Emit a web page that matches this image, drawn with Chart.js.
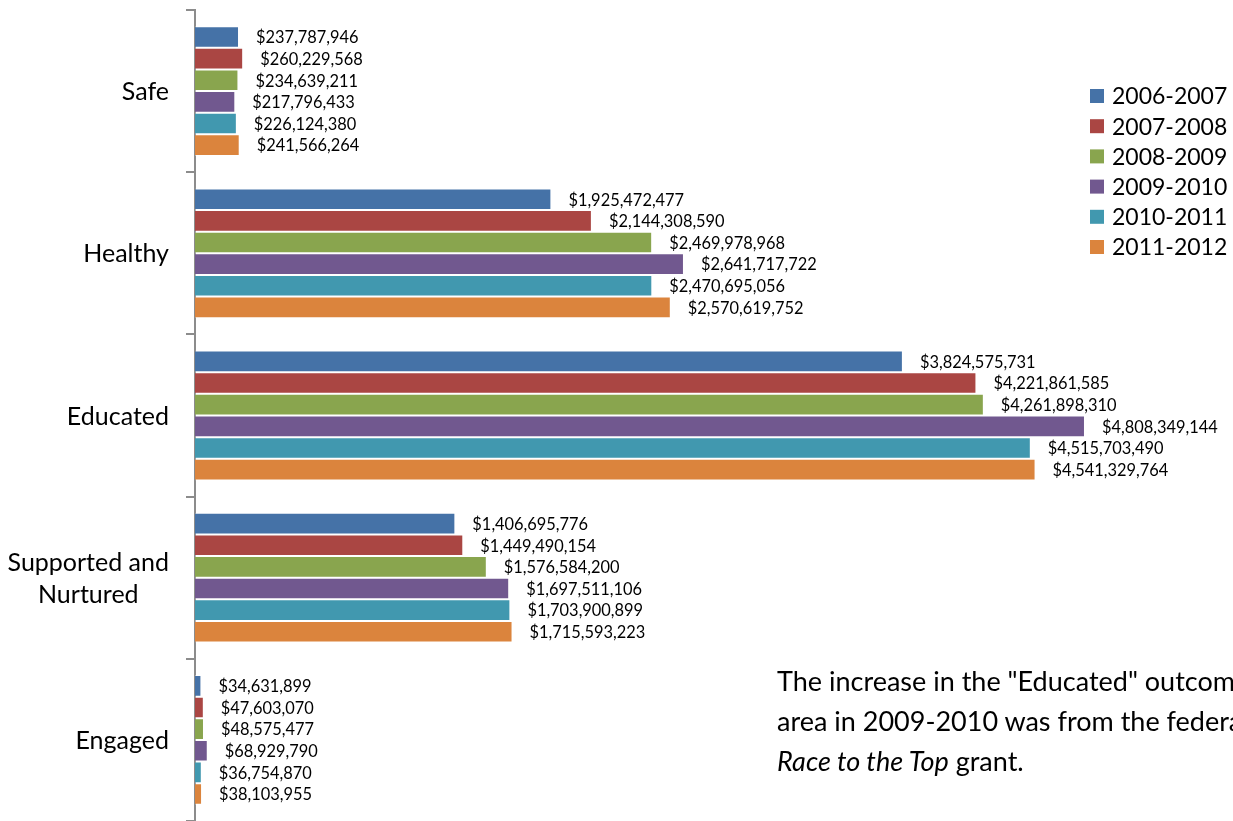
<!DOCTYPE html>
<html>
<head>
<meta charset="utf-8">
<script src="https://cdn.jsdelivr.net/npm/chart.js@4.4.1/dist/chart.umd.min.js"></script>
<style>
  html, body { margin: 0; padding: 0; background: #fff; overflow: hidden; width: 1233px; height: 821px; }
  #wrap { position: relative; width: 1233px; height: 821px; overflow: hidden; }
  canvas { position: absolute; left: 0; top: 0; }
  #note { position: absolute; left: 777px; top: 661px; font-family: Lato, sans-serif; font-size: 27px;
          line-height: 40px; color: #000; white-space: nowrap; }
</style>
</head>
<body>
<div id="wrap">
  <canvas id="c" width="1233" height="821"></canvas>
  <div id="note">The increase in the "Educated" outcome<br>area in 2009-2010 was from the federal<br><i>Race to the Top</i> grant.</div>
</div>
<script>
const categories = ["Safe", "Healthy", "Educated", ["Supported and", "Nurtured"], "Engaged"];
const seriesNames = ["2006-2007", "2007-2008", "2008-2009", "2009-2010", "2010-2011", "2011-2012"];
const values2006 = [237787946, 1925472477, 3824575731, 1406695776, 34631899];
const values2007 = [260229568, 2144308590, 4221861585, 1449490154, 47603070];
const values2008 = [234639211, 2469978968, 4261898310, 1576584200, 48575477];
const values2009 = [217796433, 2641717722, 4808349144, 1697511106, 68929790];
const values2010 = [226124380, 2470695056, 4515703490, 1703900899, 36754870];
const values2011 = [241566264, 2570619752, 4541329764, 1715593223, 38103955];
const seriesColors = ["#4572A7", "#AA4643", "#89A54E", "#71588F", "#4198AF", "#DB843D"];

const allValues = [values2006, values2007, values2008, values2009, values2010, values2011];
const datasets = seriesNames.map((name, i) => ({
  label: name,
  data: allValues[i],
  backgroundColor: seriesColors[i],
  borderColor: "rgba(255,255,255,0.35)",
  borderWidth: 1,
  categoryPercentage: 0.8,
  barPercentage: 1.0
}));

const FONT = "Lato, 'Open Sans', sans-serif";

const customDraw = {
  id: "customDraw",
  afterDatasetsDraw(chart) {
    const ctx = chart.ctx;
    ctx.save();
    // data labels
    ctx.font = "16.4px " + FONT;
    ctx.fillStyle = "#000";
    ctx.textAlign = "left";
    ctx.textBaseline = "middle";
    chart.data.datasets.forEach((ds, di) => {
      const meta = chart.getDatasetMeta(di);
      meta.data.forEach((bar, i) => {
        const v = ds.data[i];
        ctx.fillText("$" + v.toLocaleString("en-US"), bar.x + 17, bar.y + 1);
      });
    });
    // category labels
    const yScale = chart.scales.y;
    ctx.font = "25px " + FONT;
    ctx.textBaseline = "middle";
    chart.data.labels.forEach((lab, i) => {
      const y = yScale.getPixelForTick(i);
      const lines = Array.isArray(lab) ? lab : [lab];
      const lh = 32;
      const maxW = Math.max(...lines.map(l => ctx.measureText(l).width));
      const cx = 169 - maxW / 2;
      ctx.textAlign = "center";
      lines.forEach((l, k) => {
        ctx.fillText(l, cx, y + 1 + (k - (lines.length - 1) / 2) * lh);
      });
    });
    // legend
    ctx.font = "23px " + FONT;
    ctx.textAlign = "left";
    ctx.textBaseline = "middle";
    chart.data.datasets.forEach((ds, i) => {
      const y = 96 + i * 30.2;
      ctx.fillStyle = ds.backgroundColor;
      ctx.fillRect(1090, y - 7, 14, 14);
      ctx.fillStyle = "#000";
      ctx.fillText(ds.label, 1112, y + 1);
    });
    ctx.restore();
  }
};

new Chart(document.getElementById("c"), {
  type: "bar",
  data: { labels: categories, datasets: datasets },
  options: {
    indexAxis: "y",
    responsive: false,
    animation: false,
    devicePixelRatio: 1,
    layout: { padding: { top: 10, bottom: 0, left: 0, right: 20 } },
    plugins: { legend: { display: false }, tooltip: { enabled: false } },
    scales: {
      x: {
        display: false,
        min: 0,
        max: 5500000000
      },
      y: {
        type: "category",
        afterFit(scale) { scale.width = 195; },
        ticks: { display: false },
        grid: {
          display: true,
          drawOnChartArea: false,
          drawTicks: true,
          tickLength: 9,
          offset: true,
          color: "#8c8c8c",
          lineWidth: 2
        },
        border: { display: true, color: "#8c8c8c", width: 2 }
      }
    }
  },
  plugins: [customDraw]
});
</script>
</body>
</html>
